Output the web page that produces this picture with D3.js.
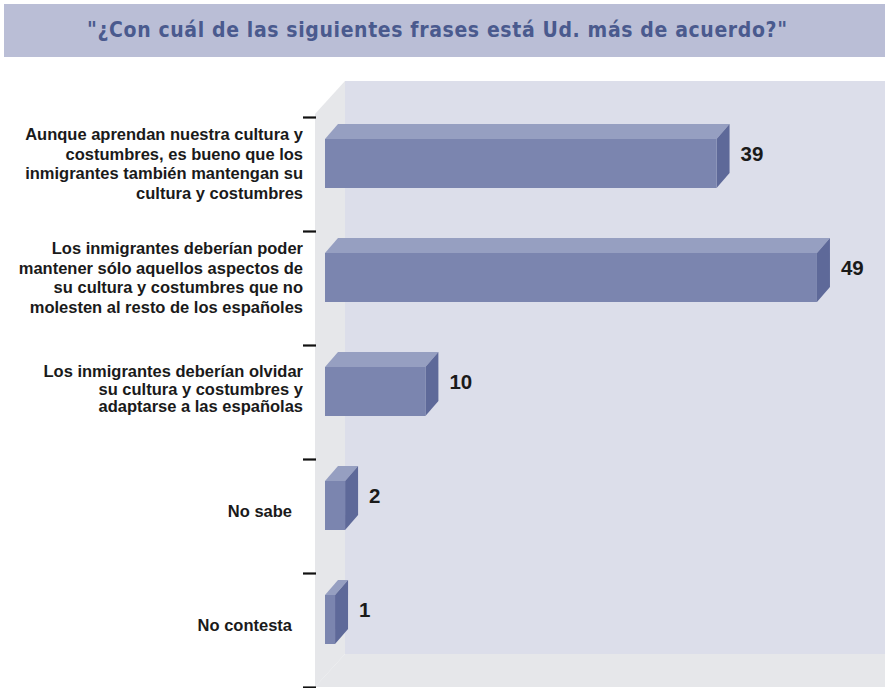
<!DOCTYPE html>
<html><head><meta charset="utf-8">
<script src="https://cdn.jsdelivr.net/npm/d3@7"></script>
<style>
body{margin:0;background:#fff;}
svg{display:block;}
</style></head>
<body>
<svg id="chart" width="885" height="688"></svg>
<script>
const titleText = '"¿Con cuál de las siguientes frases está Ud. más de acuerdo?"';
const categories = [
  ["Aunque aprendan nuestra cultura y","costumbres, es bueno que los","inmigrantes también mantengan su","cultura y costumbres"],
  ["Los inmigrantes deberían poder","mantener sólo aquellos aspectos de","su cultura y costumbres que no","molesten al resto de los españoles"],
  ["Los inmigrantes deberían olvidar","su cultura y costumbres y","adaptarse a las españolas"],
  ["No sabe"],
  ["No contesta"]
];
const values = [39, 49, 10, 2, 1];

const svg = d3.select("#chart");
const W = 885, H = 688;

// title band
svg.append("rect").attr("x",4).attr("y",4).attr("width",W-4).attr("height",53).attr("fill","#babed6");
svg.append("text").attr("x",437).attr("y",37).attr("text-anchor","middle")
  .attr("font-family","'DejaVu Sans Condensed','DejaVu Sans',sans-serif").attr("font-stretch","condensed")
  .attr("font-weight","bold").attr("font-size",21).attr("fill","#4a5a8e")
  .attr("textLength",700).attr("lengthAdjust","spacing").text(titleText);

// 3D frame
const dx = 30, dy = 33;
const x0 = 315, top0 = 114, bottom0 = 687;
svg.append("rect").attr("x",x0+dx).attr("y",top0-dy).attr("width",W).attr("height",bottom0-top0).attr("fill","#dcdeea");
svg.append("polygon").attr("points",[[x0,top0],[x0+dx,top0-dy],[x0+dx,bottom0-dy],[x0,bottom0]].join(" ")).attr("fill","#e6e7ea");
svg.append("polygon").attr("points",[[x0,bottom0],[x0+dx,bottom0-dy],[W+40,bottom0-dy],[W+40-dx,bottom0]].join(" ")).attr("fill","#e6e7ea");

const x = d3.scaleLinear().domain([0,50]).range([325, 827]);
const idx = categories.map((c,i)=>i);
const y = d3.scaleBand().domain(idx).range([117, 687]).padding(0);
const faceOff = 22, faceH = 49, bdx = 13, bdy = 15;

const tickScale = d3.scaleLinear().domain([0, categories.length]).range([117, 687]);
const axis = d3.axisLeft(tickScale).ticks(categories.length).tickSize(13).tickFormat("");
const ag = svg.append("g").attr("transform","translate(316,0)").call(axis);
ag.select(".domain").remove();
ag.selectAll(".tick line").attr("stroke","#111").attr("stroke-width",2.2);

const bars = svg.append("g").selectAll("g").data(values).join("g");
bars.each(function(v,i){
  const g = d3.select(this);
  const xl = x(0), xr = x(v), yt = y(i)+faceOff, yb = yt+faceH;
  g.append("polygon").attr("points",[[xl,yt],[xl+bdx,yt-bdy],[xr+bdx,yt-bdy],[xr,yt]].join(" ")).attr("fill","#969fc1");
  g.append("polygon").attr("points",[[xr,yt],[xr+bdx,yt-bdy],[xr+bdx,yb-bdy],[xr,yb]].join(" ")).attr("fill","#5e6999");
  g.append("rect").attr("x",xl).attr("y",yt).attr("width",xr-xl).attr("height",faceH).attr("fill","#7b85af");
  g.append("text").attr("x",xr+bdx+11).attr("y",y(i)+44)
    .attr("font-family","'Liberation Sans',Arial,sans-serif").attr("font-weight","bold").attr("font-size",20.5)
    .attr("fill","#1a1a1a").text(v);
});

const lab = svg.append("g");
categories.forEach((lines,i)=>{
  const n = lines.length;
  const lh = n === 3 ? 17.5 : 19.5;
  const shift = n === 1 ? 5 : (n === 3 ? -3 : 0);
  const cy = y(i)+faceOff+faceH/2 + shift;
  const xr = n === 1 ? 292 : 303;
  const t = lab.append("text").attr("text-anchor","end")
    .attr("font-family","'Liberation Sans',Arial,sans-serif").attr("font-weight","bold").attr("font-size",16.5)
    .attr("fill","#1a1a1a");
  lines.forEach((ln,k)=>{
    t.append("tspan").attr("x",xr).attr("y",cy + (k-(n-1)/2)*lh + 6).text(ln);
  });
});
</script>
</body></html>
